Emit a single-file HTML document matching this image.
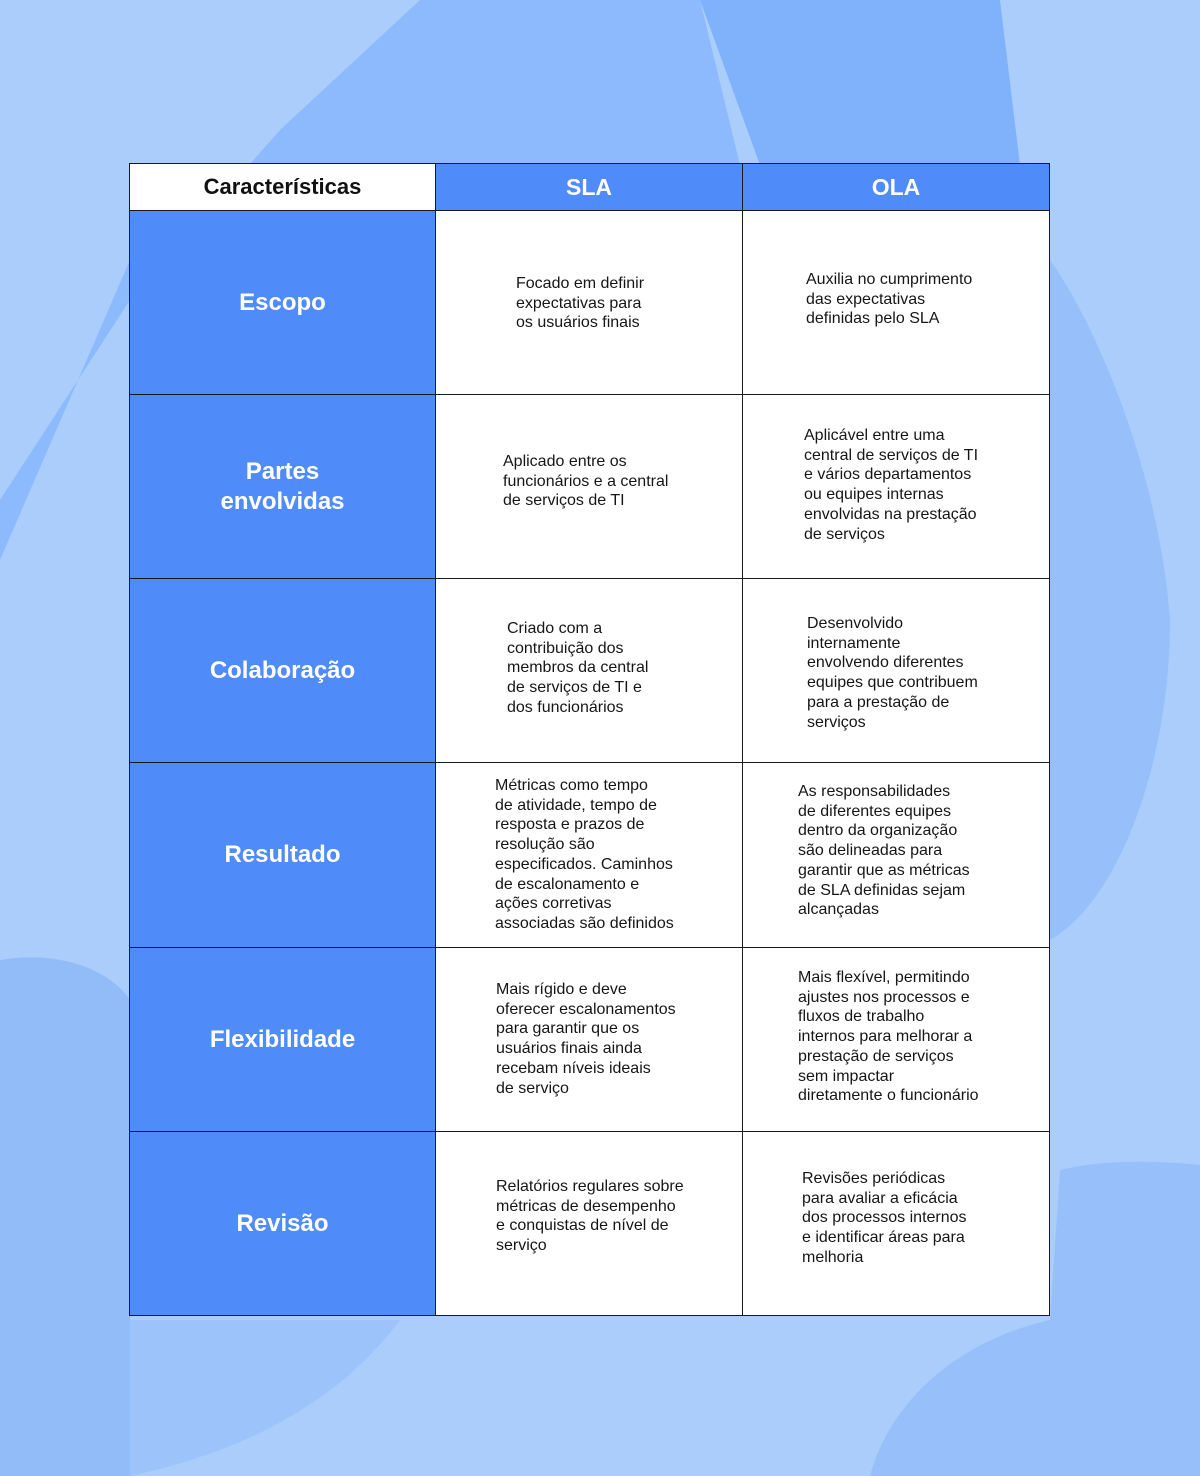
<!DOCTYPE html>
<html><head><meta charset="utf-8"><style>
body{margin:0;width:1200px;height:1476px;overflow:hidden;background:#aacdfc;font-family:"Liberation Sans",sans-serif;position:relative}
.bg{position:absolute;left:0;top:0}
.c{position:absolute;box-sizing:border-box;border:1px solid #1a1a1a}
.h{background:#4f8bf9;color:#fff;font-weight:bold;font-size:24px;display:flex;align-items:center;justify-content:center}
.w{background:#fff}
.t{position:absolute;font-size:16px;line-height:19.7px;color:#161616}
</style></head><body>
<svg class="bg" width="1200" height="1476">
<polygon points="420,0 700,0 740,165 130,165 130,260 0,560 0,500 130,300 280,130" fill="#8dbafc"/>
<polygon points="700,0 1000,0 1020,165 760,165" fill="#7fb2fb"/>
<path d="M1050,260 C1100,330 1160,480 1170,620 C1170,760 1120,900 1050,940Z" fill="#8ab8f8" opacity="0.6"/>
<path d="M0,960 C60,950 110,970 130,1000 L130,1476 L0,1476Z" fill="#86b5f7" opacity="0.7"/>
<path d="M130,1320 L400,1320 C340,1400 250,1450 130,1476Z" fill="#92bdf9" opacity="0.6"/>
<path d="M1060,1170 C1120,1155 1200,1165 1200,1165 L1200,1476 L870,1476 C890,1400 960,1340 1050,1320Z" fill="#8ab8f8" opacity="0.6"/>
</svg>
<div class="c w" style="left:129px;top:163px;width:307px;height:48px;display:flex;align-items:center;justify-content:center;font-weight:bold;font-size:22px;color:#111">Características</div>
<div class="c h" style="left:435px;top:163px;width:308px;height:48px;font-size:23px">SLA</div>
<div class="c h" style="left:742px;top:163px;width:308px;height:48px;font-size:23px">OLA</div>

<div class="c h" style="left:129px;top:210px;width:307px;height:185px">Escopo</div>
<div class="c h" style="left:129px;top:394px;width:307px;height:185px;text-align:center;line-height:30px">Partes<br>envolvidas</div>
<div class="c h" style="left:129px;top:578px;width:307px;height:185px">Colaboração</div>
<div class="c h" style="left:129px;top:762px;width:307px;height:186px">Resultado</div>
<div class="c h" style="left:129px;top:947px;width:307px;height:185px">Flexibilidade</div>
<div class="c h" style="left:129px;top:1131px;width:307px;height:185px">Revisão</div>

<div class="c w" style="left:435px;top:210px;width:308px;height:185px"></div>
<div class="c w" style="left:742px;top:210px;width:308px;height:185px"></div>
<div class="c w" style="left:435px;top:394px;width:308px;height:185px"></div>
<div class="c w" style="left:742px;top:394px;width:308px;height:185px"></div>
<div class="c w" style="left:435px;top:578px;width:308px;height:185px"></div>
<div class="c w" style="left:742px;top:578px;width:308px;height:185px"></div>
<div class="c w" style="left:435px;top:762px;width:308px;height:186px"></div>
<div class="c w" style="left:742px;top:762px;width:308px;height:186px"></div>
<div class="c w" style="left:435px;top:947px;width:308px;height:185px"></div>
<div class="c w" style="left:742px;top:947px;width:308px;height:185px"></div>
<div class="c w" style="left:435px;top:1131px;width:308px;height:185px"></div>
<div class="c w" style="left:742px;top:1131px;width:308px;height:185px"></div>

<div class="t" style="left:516px;top:274px">Focado em definir<br>expectativas para<br>os usuários finais</div>
<div class="t" style="left:806px;top:270px">Auxilia no cumprimento<br>das expectativas<br>definidas pelo SLA</div>
<div class="t" style="left:503px;top:452px">Aplicado entre os<br>funcionários e a central<br>de serviços de TI</div>
<div class="t" style="left:804px;top:426px">Aplicável entre uma<br>central de serviços de TI<br>e vários departamentos<br>ou equipes internas<br>envolvidas na prestação<br>de serviços</div>
<div class="t" style="left:507px;top:619px">Criado com a<br>contribuição dos<br>membros da central<br>de serviços de TI e<br>dos funcionários</div>
<div class="t" style="left:807px;top:614px">Desenvolvido<br>internamente<br>envolvendo diferentes<br>equipes que contribuem<br>para a prestação de<br>serviços</div>
<div class="t" style="left:495px;top:776px">Métricas como tempo<br>de atividade, tempo de<br>resposta e prazos de<br>resolução são<br>especificados. Caminhos<br>de escalonamento e<br>ações corretivas<br>associadas são definidos</div>
<div class="t" style="left:798px;top:782px">As responsabilidades<br>de diferentes equipes<br>dentro da organização<br>são delineadas para<br>garantir que as métricas<br>de SLA definidas sejam<br>alcançadas</div>
<div class="t" style="left:496px;top:980px">Mais rígido e deve<br>oferecer escalonamentos<br>para garantir que os<br>usuários finais ainda<br>recebam níveis ideais<br>de serviço</div>
<div class="t" style="left:798px;top:968px">Mais flexível, permitindo<br>ajustes nos processos e<br>fluxos de trabalho<br>internos para melhorar a<br>prestação de serviços<br>sem impactar<br>diretamente o funcionário</div>
<div class="t" style="left:496px;top:1177px">Relatórios regulares sobre<br>métricas de desempenho<br>e conquistas de nível de<br>serviço</div>
<div class="t" style="left:802px;top:1169px">Revisões periódicas<br>para avaliar a eficácia<br>dos processos internos<br>e identificar áreas para<br>melhoria</div>
</body></html>
